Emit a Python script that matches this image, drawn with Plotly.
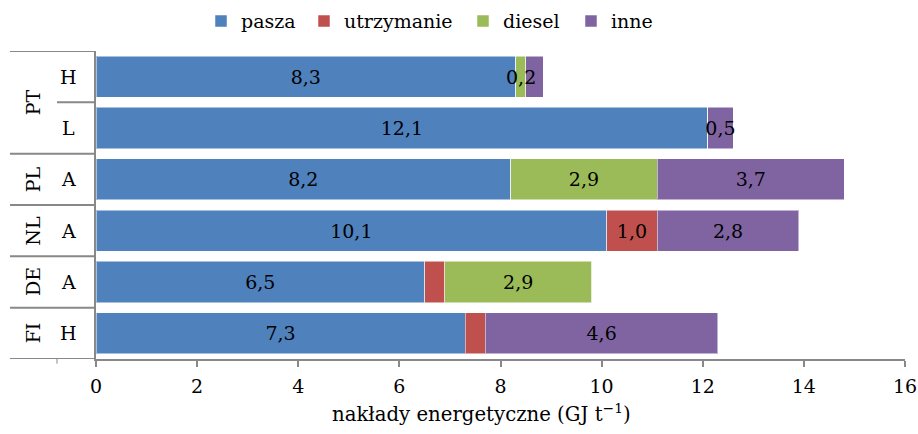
import plotly.graph_objects as go

# ---- data ----
countries = ["FI", "DE", "NL", "PL", "PT", "PT"]
systems = ["H", "A", "A", "A", "L", "H"]
row_ids = [c + " " + s for c, s in zip(countries, systems)]

series_names = ["pasza", "utrzymanie", "diesel", "inne"]
pasza = [7.3, 6.5, 10.1, 8.2, 12.1, 8.3]
utrzymanie = [0.4, 0.4, 1.0, 0.0, 0.0, 0.0]
diesel = [0.0, 2.9, 0.0, 2.9, 0.0, 0.2]
inne = [4.6, 0.0, 2.8, 3.7, 0.5, 0.35]
# which segments carry a visible data label
show_pasza = [True, True, True, True, True, True]
show_utrz = [False, False, True, False, False, False]
show_diesel = [False, True, False, True, False, True]
show_inne = [True, False, True, True, True, False]

colors = ["#4F81BD", "#C0504D", "#9BBB59", "#8064A2"]
x_ticks = [0, 2, 4, 6, 8, 10, 12, 14, 16]
x_title = "nakłady energetyczne (GJ t<sup>−1</sup>)"

FONT = "DejaVu Serif"
FS = 19
GRAY = "#888888"


def lab(a):
    return f"{a:.1f}".replace(".", ",")


values = [pasza, utrzymanie, diesel, inne]
shows = [show_pasza, show_utrz, show_diesel, show_inne]

# plot geometry (pixels) for paper conversions
FIG_W, FIG_H = 918, 434
L, R = 96, 905
T, B = 51, 359
W = R - L
H = B - T


def px(xpix):
    return (xpix - L) / W


def py(ypix):
    return (B - ypix) / H


legend_ids = ["legend", "legend2", "legend3", "legend4"]
legend_left_px = [201, 304, 463, 571]

fig = go.Figure()
annotations = []
for k, (name, vals, show, col) in enumerate(zip(series_names, values, shows, colors)):
    texts = []
    for i, (v, s) in enumerate(zip(vals, show)):
        if not s:
            texts.append("")
        elif v < 0.3:
            # label wider than its segment: draw on top of later segments
            texts.append("")
            left = sum(values[j][i] for j in range(k))
            annotations.append(dict(x=left + v / 2, y=row_ids[i], xref="x", yref="y",
                                    text=lab(v), showarrow=False,
                                    xanchor="center", yanchor="middle",
                                    font=dict(family=FONT, size=FS, color="black")))
        else:
            texts.append(lab(v))
    fig.add_trace(
        go.Bar(
            name=name,
            y=row_ids,
            x=vals,
            orientation="h",
            marker=dict(color=col, line=dict(color="rgba(255,255,255,0.5)", width=1)),
            text=texts,
            textposition="inside",
            insidetextanchor="middle",
            textangle=0,
            constraintext="none",
            textfont=dict(family=FONT, size=FS, color="black"),
            hoverinfo="skip",
            legend=legend_ids[k],
        )
    )

shapes = []
# group divider lines in left label area
for b in [-0.5, 0.5, 1.5, 2.5, 3.5, 5.5]:
    shapes.append(dict(type="line", xref="paper", yref="y", x0=px(10), x1=0,
                       y0=b, y1=b, line=dict(color=GRAY, width=2)))
# short divider within PT group
shapes.append(dict(type="line", xref="paper", yref="y", x0=px(57), x1=0,
                   y0=4.5, y1=4.5, line=dict(color=GRAY, width=2)))
# small tick below at second-level column boundary
shapes.append(dict(type="line", xref="paper", yref="paper", x0=px(57), x1=px(57),
                   y0=0, y1=-0.015, line=dict(color=GRAY, width=1)))

for i, s in enumerate(systems):
    annotations.append(dict(x=px(68), y=row_ids[i], xref="paper", yref="y", text=s,
                            showarrow=False, xanchor="center", yanchor="middle",
                            font=dict(family=FONT, size=FS, color="black")))
# group labels (rotated)
groups = {}
for i, c in enumerate(countries):
    groups.setdefault(c, []).append(i)
for c, idx in groups.items():
    annotations.append(dict(x=px(33), y=sum(idx) / len(idx), xref="paper", yref="y",
                            text=c, textangle=-90, showarrow=False,
                            xanchor="center", yanchor="middle",
                            font=dict(family=FONT, size=FS, color="black")))
# x-axis title
annotations.append(dict(x=px(481), y=py(413), xref="paper", yref="paper",
                        text=x_title, showarrow=False, xanchor="center", yanchor="middle",
                        font=dict(family=FONT, size=19.7, color="black")))

legends = {}
for lid, lx in zip(legend_ids, legend_left_px):
    legends[lid] = dict(orientation="h", xref="container", yref="container",
                        x=lx / FIG_W, y=0.995, xanchor="left", yanchor="top",
                        font=dict(family=FONT, size=FS), itemwidth=30,
                        bgcolor="rgba(0,0,0,0)")

fig.update_layout(
    width=FIG_W, height=FIG_H,
    margin=dict(l=L, r=FIG_W - R, t=T, b=FIG_H - B),
    paper_bgcolor="white", plot_bgcolor="white",
    barmode="stack", bargap=0.2,
    font=dict(family=FONT, size=FS, color="black"),
    showlegend=True,
    xaxis=dict(range=[0, 16], tickvals=x_ticks, ticktext=[str(t) for t in x_ticks],
               showgrid=False, zeroline=False, showline=True, linecolor=GRAY, linewidth=2,
               ticks="outside", ticklen=6, tickcolor=GRAY, tickwidth=2,
               ticklabelstandoff=3,
               tickfont=dict(family=FONT, size=FS), automargin=False),
    yaxis=dict(type="category", range=[-0.5, 5.5], showticklabels=False,
               showgrid=False, zeroline=False, showline=True, linecolor=GRAY, linewidth=2,
               ticks="", automargin=False),
    shapes=shapes,
    annotations=annotations,
    **legends,
)

fig.write_html("out.html")
